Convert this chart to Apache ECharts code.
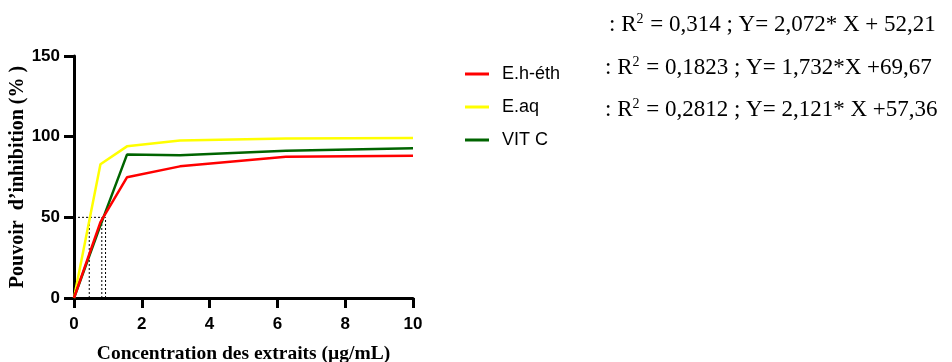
<!DOCTYPE html>
<html>
<head>
<meta charset="utf-8">
<script src="https://cdn.jsdelivr.net/npm/echarts@6/dist/echarts.min.js"></script>
<style>
  html, body { margin: 0; padding: 0; background: #fff; }
  #chart { width: 952px; height: 362px; }
</style>
</head>
<body>
<div id="chart"></div>
<script>
  // concentrations (µg/mL)
  const conc = [0, 0.78, 1.5625, 3.125, 6.25, 10];
  const eheth = [0, 47, 74.8, 81.6, 87.6, 88.2];
  const eaq = [0, 82.9, 94.0, 97.6, 98.8, 99.2];
  const vitc = [0, 45, 88.9, 88.5, 91.2, 92.8];
  // IC50 guides
  const ic50 = [0.45, 0.82, 0.93];
  const xTicks = [0, 2, 4, 6, 8, 10];
  const yTicks = [0, 50, 100, 150];
  const equations = [
    ['0,314', '2,072* X + 52,21'],
    ['0,1823', '1,732*X +69,67'],
    ['0,2812', '2,121* X +57,36'],
  ];

  const chart = echarts.init(document.getElementById('chart'));

  const pairs = (ys) => conc.map((x, i) => [x, ys[i]]);
  const guideStyle = { color: '#000', width: 1, type: [2, 2] };

  const guides = [
    {
      type: 'line', data: [[0, 50], [Math.max(...ic50), 50]],
      showSymbol: false, silent: true, lineStyle: guideStyle, z: 1,
    },
  ];
  ic50.forEach((v) => {
    guides.push({
      type: 'line', data: [[v, 0], [v, 50]],
      showSymbol: false, silent: true, lineStyle: guideStyle, z: 1,
    });
  });

  const eqGraphics = equations.map((e, i) => ({
    type: 'text',
    left: i === 0 ? 609 : 605,
    top: [12, 55, 97][i],
    style: {
      text: '{t|: R}{s|2}{t| = ' + e[0] + ' ; Y= ' + e[1] + '}',
      rich: {
        t: { fontFamily: 'Liberation Serif', fontSize: 23, fill: '#000' },
        s: { fontFamily: 'Liberation Serif', fontSize: 14, fill: '#000', verticalAlign: 'top', padding: [0, 1, 12, 0] },
      },
    },
  }));

  const axisCommon = {
    axisLine: { show: true, lineStyle: { color: '#000', width: 3 } },
    axisTick: { show: true, length: 10, lineStyle: { color: '#000', width: 3 } },
    splitLine: { show: false },
    nameTextStyle: { fontFamily: 'Liberation Serif', fontWeight: 'bold', fontSize: 19.5, color: '#000' },
    axisLabel: { fontFamily: 'Liberation Sans', fontWeight: 'bold', fontSize: 17, color: '#000' },
  };

  const option = {
    animation: false,
    grid: { left: 74, right: 539, top: 56, bottom: 64, containLabel: false, outerBoundsMode: 'none' },
    xAxis: Object.assign({}, axisCommon, {
      type: 'value',
      min: 0, max: 10, interval: 2,
      name: 'Concentration des extraits (µg/mL)',
      nameLocation: 'middle',
      nameGap: 46,
      axisLabel: Object.assign({}, axisCommon.axisLabel, {
        margin: 18,
        formatter: (v) => (xTicks.includes(v) ? String(v) : ''),
      }),
    }),
    yAxis: Object.assign({}, axisCommon, {
      type: 'value',
      min: 0, max: 150, interval: 50,
      name: 'Pouvoir  d\u2019inhibition (% )',
      nameLocation: 'middle',
      nameGap: 46,
      nameTextStyle: Object.assign({}, axisCommon.nameTextStyle, { fontSize: 20 }),
      axisLabel: Object.assign({}, axisCommon.axisLabel, {
        margin: 14,
        formatter: (v) => (yTicks.includes(v) ? String(v) : ''),
      }),
    }),
    legend: {
      data: ['E.h-éth', 'E.aq', 'VIT C'],
      orient: 'vertical',
      left: 460,
      top: 60,
      icon: 'rect',
      itemWidth: 24,
      itemHeight: 3,
      itemGap: 15,
      textStyle: { fontFamily: 'Liberation Sans', fontSize: 18, color: '#000', padding: [0, 0, 0, 8] },
    },
    graphic: eqGraphics,
    series: [
      ...guides,
      {
        name: 'E.h-éth', type: 'line', data: pairs(eheth), showSymbol: false,
        itemStyle: { color: '#ff0000' }, lineStyle: { color: '#ff0000', width: 2.5 }, z: 3,
      },
      {
        name: 'E.aq', type: 'line', data: pairs(eaq), showSymbol: false,
        itemStyle: { color: '#ffff00' }, lineStyle: { color: '#ffff00', width: 2.5 }, z: 2,
      },
      {
        name: 'VIT C', type: 'line', data: pairs(vitc), showSymbol: false,
        itemStyle: { color: '#006400' }, lineStyle: { color: '#006400', width: 2.5 }, z: 2,
      },
    ],
  };

  chart.setOption(option);
</script>
</body>
</html>
